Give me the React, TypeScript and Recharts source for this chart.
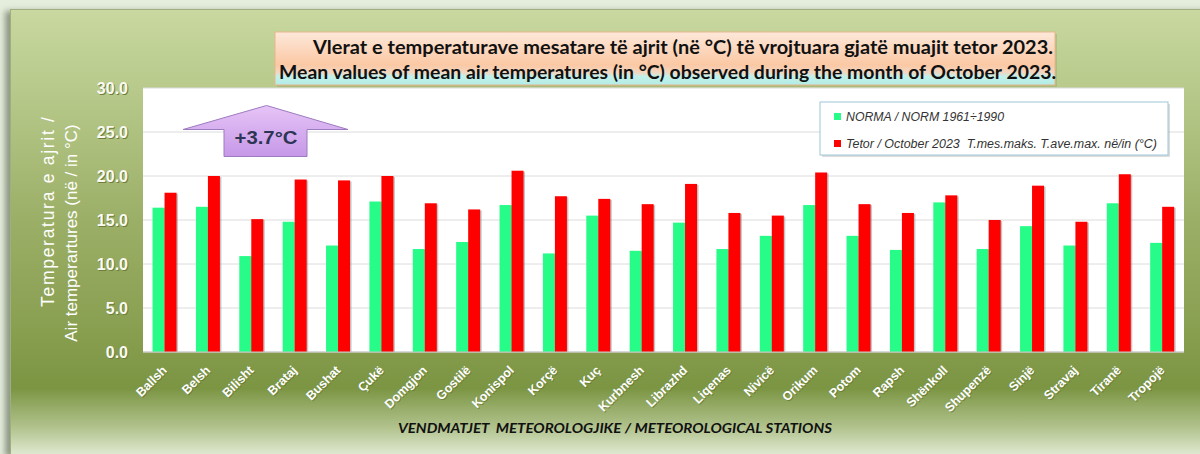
import React from "react";
import { BarChart, Bar, XAxis, YAxis, CartesianGrid } from "recharts";

const stations = ["Ballsh","Belsh","Bilisht","Brataj","Bushat","Çukë","Domgjon","Gostilë","Konispol","Korçë","Kuç","Kurbnesh","Librazhd","Liqenas","Nivicë","Orikum","Potom","Rapsh","Shënkoll","Shupenzë","Sinjë","Stravaj","Tiranë","Tropojë"];
const normValues = [16.4,16.5,10.9,14.8,12.1,17.1,11.7,12.5,16.7,11.2,15.5,11.5,14.7,11.7,13.2,16.7,13.2,11.6,17.0,11.7,14.3,12.1,16.9,12.4];
const octValues = [18.1,20.0,15.1,19.6,19.5,20.0,16.9,16.2,20.6,17.7,17.4,16.8,19.1,15.8,15.5,20.4,16.8,15.8,17.8,15.0,18.9,14.8,20.2,16.5];
const yTicks = [0, 5, 10, 15, 20, 25, 30];

const titleLine1 = "Vlerat e temperaturave mesatare të ajrit (në °C) të vrojtuara gjatë muajit tetor 2023.";
const titleLine2 = "Mean values of mean air temperatures (in °C) observed during the month of October 2023.";
const legendNorm = "NORMA / NORM 1961÷1990";
const legendOct = "Tetor / October 2023  T.mes.maks. T.ave.max. në/in (°C)";
const badgeText = "+3.7°C";
const yTitle1 = "Temperatura e ajrit /";
const yTitle2 = "Air temperartures (në / in °C)";
const xTitle = "VENDMATJET  METEOROLOGJIKE / METEOROLOGICAL STATIONS";

const data = stations.map((s, i) => ({ station: s, norm: normValues[i], oct: octValues[i] }));

const ShadowBar = (props: any) => {
  const { x, y, width, height, fill } = props;
  if (height == null || height <= 0) return null;
  return (
    <g>
      <rect x={x + 1.5} y={y + 1} width={width} height={height - 1} fill="#808080" opacity={0.45} />
      <rect x={x} y={y} width={width} height={height} fill={fill} />
    </g>
  );
};

const YTick = (props: any) => {
  const { x, y, payload } = props;
  const label = Number(payload.value).toFixed(1);
  return (
    <g>
      <text x={x + 1} y={y + 1} textAnchor="end" dominantBaseline="central" fill="#6d7f3c" fontFamily="Arial, 'Liberation Sans'" fontWeight="bold" fontSize={16}>{label}</text>
      <text x={x} y={y} textAnchor="end" dominantBaseline="central" fill="#fafaf2" fontFamily="Arial, 'Liberation Sans'" fontWeight="bold" fontSize={16}>{label}</text>
    </g>
  );
};

const XTick = (props: any) => {
  const { x, y, payload } = props;
  const tx = x + 3;
  const ty = y + 19;
  return (
    <g>
      <text x={tx + 1} y={ty + 1} textAnchor="end" transform={`rotate(-45 ${tx + 1} ${ty + 1})`} fill="#5e7030" opacity={0.6} fontFamily="Arial, 'Liberation Sans'" fontWeight="bold" fontSize={12.5}>{payload.value}</text>
      <text x={tx} y={ty} textAnchor="end" transform={`rotate(-45 ${tx} ${ty})`} fill="#ffffff" fontFamily="Arial, 'Liberation Sans'" fontWeight="bold" fontSize={12.5}>{payload.value}</text>
    </g>
  );
};

export default function App() {
  return (
    <div style={{ position: "absolute", left: 0, top: 0, width: 1200, height: 454, background: "#e5eedc", overflow: "hidden" }}>
      <div
        style={{
          position: "absolute",
          left: 10,
          top: 9,
          width: 1200,
          height: 445,
          background: "linear-gradient(to bottom, #c8d8a0 0%, #b4c686 22%, #9bae66 48%, #8aa052 70%, #7b9543 85%, #b3c48f 94%, #e0e9d2 100%)",
          boxShadow: "-5px 2px 6px rgba(70,80,60,0.55)",
          borderTop: "1px solid #9fb07e",
          borderLeft: "1px solid #9fb07e",
        }}
      />
      <div style={{ position: "absolute", left: 0, top: 0 }}>
        <BarChart
          width={1200}
          height={454}
          data={data}
          margin={{ top: 88, right: 16, bottom: 0, left: 0 }}
          barCategoryGap="22%"
          barGap={0}
        >
          <CartesianGrid vertical={false} stroke="#dcdcdc" fill="#ffffff" fillOpacity={1} />
          <XAxis
            dataKey="station"
            height={102}
            interval={0}
            tick={XTick}
            tickLine={false}
            tickSize={0}
            tickMargin={0}
            axisLine={{ stroke: "#c4c4c4" }}
          />
          <YAxis
            width={143}
            domain={[0, 30]}
            ticks={yTicks}
            tick={YTick}
            axisLine={false}
            tickLine={false}
            tickSize={0}
            tickMargin={15}
            interval={0}
          />
          <Bar dataKey="norm" fill="#27fc88" shape={ShadowBar} isAnimationActive={false} />
          <Bar dataKey="oct" fill="#ff0000" shape={ShadowBar} isAnimationActive={false} />
        </BarChart>
      </div>
      <svg width={1200} height={454} style={{ position: "absolute", left: 0, top: 0, pointerEvents: "none" }}>
        <defs>
          <linearGradient id="titleGrad" x1="0" y1="0" x2="0" y2="1">
            <stop offset="0%" stopColor="#fde8da" />
            <stop offset="62%" stopColor="#fbc8a4" />
            <stop offset="76%" stopColor="#f3d6c0" />
            <stop offset="84%" stopColor="#c3f0ea" />
            <stop offset="100%" stopColor="#b3ece6" />
          </linearGradient>
          <linearGradient id="badgeGrad" x1="0" y1="0" x2="0" y2="1">
            <stop offset="0%" stopColor="#e6c4f6" />
            <stop offset="100%" stopColor="#c698e8" />
          </linearGradient>
        </defs>
        {/* Title box */}
        <rect x={277} y={34} width={780} height={53} fill="#8fa060" opacity={0.35} />
        <rect x={275} y={32} width={780} height={53} fill="url(#titleGrad)" stroke="#e9b58c" strokeWidth={1} />
        <text x={313} y={54} fontFamily="Lato, 'Open Sans', sans-serif" fontWeight="bold" fontSize={18.5} fill="#111" textLength={740} lengthAdjust="spacingAndGlyphs">{titleLine1}</text>
        <text x={279} y={79} fontFamily="Lato, 'Open Sans', sans-serif" fontWeight="bold" fontSize={18.5} fill="#111" textLength={777} lengthAdjust="spacingAndGlyphs">{titleLine2}</text>

        {/* Legend */}
        <rect x={822} y={104} width={348} height={53} fill="#9a9a9a" opacity={0.35} />
        <rect x={820} y={102} width={348} height={53} fill="#ffffff" stroke="#9ec6d8" strokeWidth={1} />
        <rect x={834} y={113} width={7} height={7} fill="#27fc88" />
        <text x={846} y={121} fontFamily="Arial, 'Liberation Sans'" fontStyle="italic" fontSize={12.3} fill="#333">{legendNorm}</text>
        <rect x={834} y={140} width={7} height={7} fill="#ff0000" />
        <text x={846} y={148} fontFamily="Arial, 'Liberation Sans'" fontStyle="italic" fontSize={12.3} fill="#333" style={{ whiteSpace: "pre" }} textLength={311} lengthAdjust="spacingAndGlyphs">{legendOct}</text>

        {/* Badge arrow */}
        <polygon points="266.5,105.5 348,129.5 307,129.5 307,156.5 224,156.5 224,129.5 183,129.5" fill="url(#badgeGrad)" stroke="#9d7bbf" strokeWidth={1} />
        <text x={266} y={144} textAnchor="middle" fontFamily="Arial, 'Liberation Sans'" fontWeight="bold" fontSize={18} fill="#2d3554" textLength={63} lengthAdjust="spacingAndGlyphs">{badgeText}</text>

        {/* Y axis title */}
        <text x={48} y={212} transform="rotate(-90 48 212)" textAnchor="middle" dominantBaseline="central" fontFamily="Arial, 'Liberation Sans'" fontSize={17.5} fill="#ffffff" textLength={190} lengthAdjust="spacing">{yTitle1}</text>
        <text x={71} y={233} transform="rotate(-90 71 233)" textAnchor="middle" dominantBaseline="central" fontFamily="Arial, 'Liberation Sans'" fontSize={17} fill="#ffffff">{yTitle2}</text>

        {/* X axis title */}
        <text x={398} y={433} fontFamily="Lato, 'Open Sans', sans-serif" fontWeight="bold" fontStyle="italic" fontSize={14} fill="#111" style={{ whiteSpace: "pre" }} textLength={434} lengthAdjust="spacingAndGlyphs">{xTitle}</text>
      </svg>
    </div>
  );
}
